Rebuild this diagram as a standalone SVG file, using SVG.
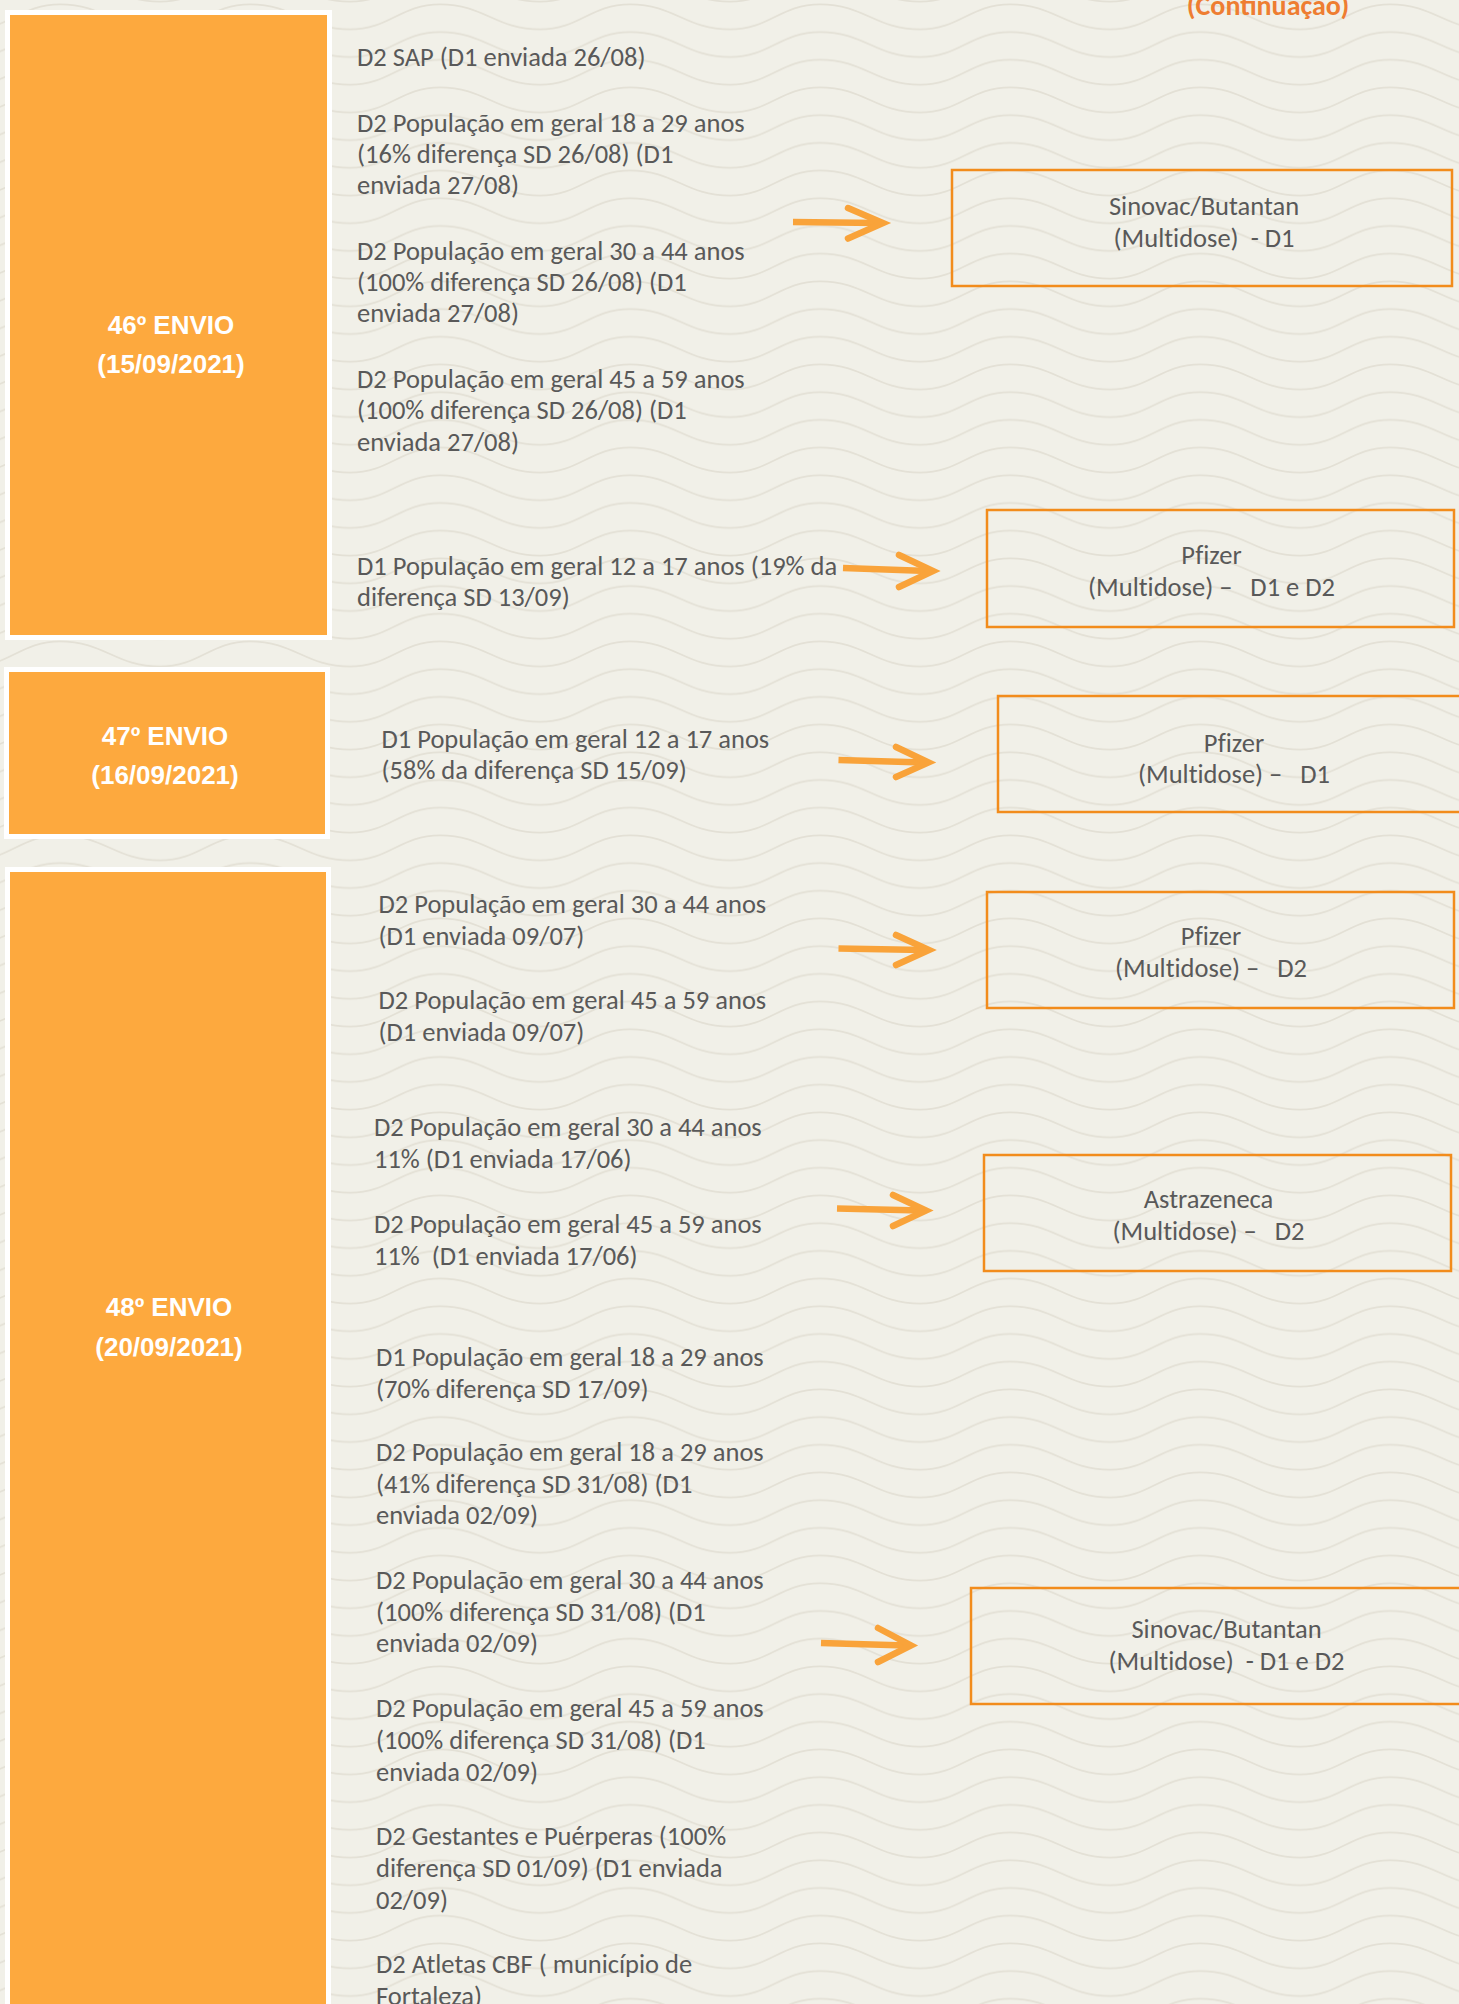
<svg xmlns="http://www.w3.org/2000/svg" width="1459" height="2004" viewBox="0 0 1459 2004">
<defs>
<path id="wv" d="M-1 1.35 L0 1.35 C45 1.35 55 26.35 100 26.35 C140 26.35 150 1.35 190 1.35 L191 1.35" fill="none" stroke="#e3e0d5" stroke-width="1.7"/>
<pattern id="waves" x="60" y="3" width="190" height="27.7" patternUnits="userSpaceOnUse">
<use href="#wv" y="-27.7"/>
<use href="#wv"/>
<use href="#wv" y="27.7"/>
</pattern>
<style>
.bg{fill:#f1f0e8}
.envio{fill:#fda93e;stroke:#ffffff;stroke-width:5}
.etxt{font-family:"Liberation Sans",Arial,sans-serif;font-weight:bold;font-size:26px;fill:#ffffff;text-anchor:middle}
.t{font-family:Carlito,Lato,"Open Sans",sans-serif;font-size:26.5px;fill:#595959;white-space:pre;font-variant-ligatures:none}
.vb{fill:none;stroke:#f28c1c;stroke-width:2.5}
.vt{font-family:Carlito,Lato,"Open Sans",sans-serif;font-size:26.5px;fill:#595959;text-anchor:middle;white-space:pre;font-variant-ligatures:none}
.title{font-family:Carlito,Lato,"Open Sans",sans-serif;font-weight:bold;font-size:28px;fill:#ee7d31;text-anchor:middle}
.shaft{fill:none;stroke:#f9a33a;stroke-width:6.5;stroke-linecap:butt}
.head{fill:none;stroke:#f9a33a;stroke-width:6.5;stroke-linecap:round;stroke-linejoin:miter}
</style>
</defs>
<rect class="bg" x="0" y="0" width="1459" height="2004"/>
<rect x="0" y="0" width="1459" height="2004" fill="url(#waves)"/>

<text class="title" x="1268" y="15">(Continuação)</text>

<g id="envio46">
<rect class="envio" x="7.5" y="12.5" width="322" height="625"/>
<text class="etxt" x="171" y="334">46º ENVIO</text>
<text class="etxt" x="171" y="373">(15/09/2021)</text>
</g>
<g id="envio47">
<rect class="envio" x="6.5" y="669.5" width="321" height="167"/>
<text class="etxt" x="165" y="745">47º ENVIO</text>
<text class="etxt" x="165" y="784">(16/09/2021)</text>
</g>
<g id="envio48">
<rect class="envio" x="7.5" y="869.5" width="321" height="1150"/>
<text class="etxt" x="169" y="1316">48º ENVIO</text>
<text class="etxt" x="169" y="1356">(20/09/2021)</text>
</g>

<g id="items46">
<text class="t" x="357" y="66">D2 SAP (D1 enviada 26/08)</text>
<text class="t" x="357" y="132">D2 População em geral 18 a 29 anos</text>
<text class="t" x="357" y="163">(16% diferença SD 26/08) (D1</text>
<text class="t" x="357" y="194">enviada 27/08)</text>
<text class="t" x="357" y="260">D2 População em geral 30 a 44 anos</text>
<text class="t" x="357" y="291">(100% diferença SD 26/08) (D1</text>
<text class="t" x="357" y="322">enviada 27/08)</text>
<text class="t" x="357" y="388">D2 População em geral 45 a 59 anos</text>
<text class="t" x="357" y="419">(100% diferença SD 26/08) (D1</text>
<text class="t" x="357" y="451">enviada 27/08)</text>
<text class="t" x="357" y="575">D1 População em geral 12 a 17 anos (19% da</text>
<text class="t" x="357" y="606">diferença SD 13/09)</text>
</g>

<g id="items47">
<text class="t" x="381.5" y="748">D1 População em geral 12 a 17 anos</text>
<text class="t" x="381.5" y="779">(58% da diferença SD 15/09)</text>
</g>

<g id="items48a">
<text class="t" x="378.5" y="913">D2 População em geral 30 a 44 anos</text>
<text class="t" x="378.5" y="945">(D1 enviada 09/07)</text>
<text class="t" x="378.5" y="1009">D2 População em geral 45 a 59 anos</text>
<text class="t" x="378.5" y="1040.5">(D1 enviada 09/07)</text>
</g>
<g id="items48b">
<text class="t" x="374" y="1136">D2 População em geral 30 a 44 anos</text>
<text class="t" x="374" y="1168">11% (D1 enviada 17/06)</text>
<text class="t" x="374" y="1233">D2 População em geral 45 a 59 anos</text>
<text class="t" x="374" y="1265">11%  (D1 enviada 17/06)</text>
</g>
<g id="items48c">
<text class="t" x="376" y="1365.5">D1 População em geral 18 a 29 anos</text>
<text class="t" x="376" y="1397.5">(70% diferença SD 17/09)</text>
<text class="t" x="376" y="1461">D2 População em geral 18 a 29 anos</text>
<text class="t" x="376" y="1492.5">(41% diferença SD 31/08) (D1</text>
<text class="t" x="376" y="1524">enviada 02/09)</text>
<text class="t" x="376" y="1589">D2 População em geral 30 a 44 anos</text>
<text class="t" x="376" y="1620.5">(100% diferença SD 31/08) (D1</text>
<text class="t" x="376" y="1652">enviada 02/09)</text>
<text class="t" x="376" y="1716.5">D2 População em geral 45 a 59 anos</text>
<text class="t" x="376" y="1748.5">(100% diferença SD 31/08) (D1</text>
<text class="t" x="376" y="1780.5">enviada 02/09)</text>
<text class="t" x="376" y="1845">D2 Gestantes e Puérperas (100%</text>
<text class="t" x="376" y="1876.5">diferença SD 01/09) (D1 enviada</text>
<text class="t" x="376" y="1908.5">02/09)</text>
<text class="t" x="376" y="1973">D2 Atletas CBF ( município de</text>
<text class="t" x="376" y="2005">Fortaleza)</text>
</g>

<g id="vac1">
<rect class="vb" x="952" y="170" width="500" height="116"/>
<text class="vt" x="1204" y="214.5">Sinovac/Butantan</text>
<text class="vt" x="1204" y="247">(Multidose)  - D1</text>
</g>
<g id="vac2">
<rect class="vb" x="987" y="510" width="467" height="117"/>
<text class="vt" x="1211.5" y="564">Pfizer</text>
<text class="vt" x="1211.5" y="596">(Multidose) –   D1 e D2</text>
</g>
<g id="vac3">
<rect class="vb" x="998" y="696" width="480" height="116"/>
<text class="vt" x="1234" y="751.5">Pfizer</text>
<text class="vt" x="1234" y="783">(Multidose) –   D1</text>
</g>
<g id="vac4">
<rect class="vb" x="987" y="892" width="467" height="116"/>
<text class="vt" x="1211" y="945">Pfizer</text>
<text class="vt" x="1211" y="977">(Multidose) –   D2</text>
</g>
<g id="vac5">
<rect class="vb" x="984" y="1155" width="467" height="116"/>
<text class="vt" x="1208.5" y="1208">Astrazeneca</text>
<text class="vt" x="1208.5" y="1240">(Multidose) –   D2</text>
</g>
<g id="vac6">
<rect class="vb" x="971" y="1588" width="500" height="116"/>
<text class="vt" x="1226.5" y="1638">Sinovac/Butantan</text>
<text class="vt" x="1226.5" y="1670">(Multidose)  - D1 e D2</text>
</g>

<g id="connectors">
<path class="shaft" d="M793 222 L878 223"/>
<path class="head" d="M848 208 L883 223 L848 238.5"/>
<path class="shaft" d="M843 568 L928 571"/>
<path class="head" d="M899 555 L933 571 L899 587"/>
<path class="shaft" d="M838.5 760 L923.5 762.5"/>
<path class="head" d="M896 747 L928.5 762.5 L896 777"/>
<path class="shaft" d="M838.5 948.5 L924 950"/>
<path class="head" d="M896 935 L929 950 L896 965"/>
<path class="shaft" d="M837 1208.5 L921 1210.5"/>
<path class="head" d="M893 1195 L926 1210.5 L893 1226"/>
<path class="shaft" d="M821 1643 L906 1645.5"/>
<path class="head" d="M878 1628 L911 1645.5 L878 1662"/>
</g>
</svg>
